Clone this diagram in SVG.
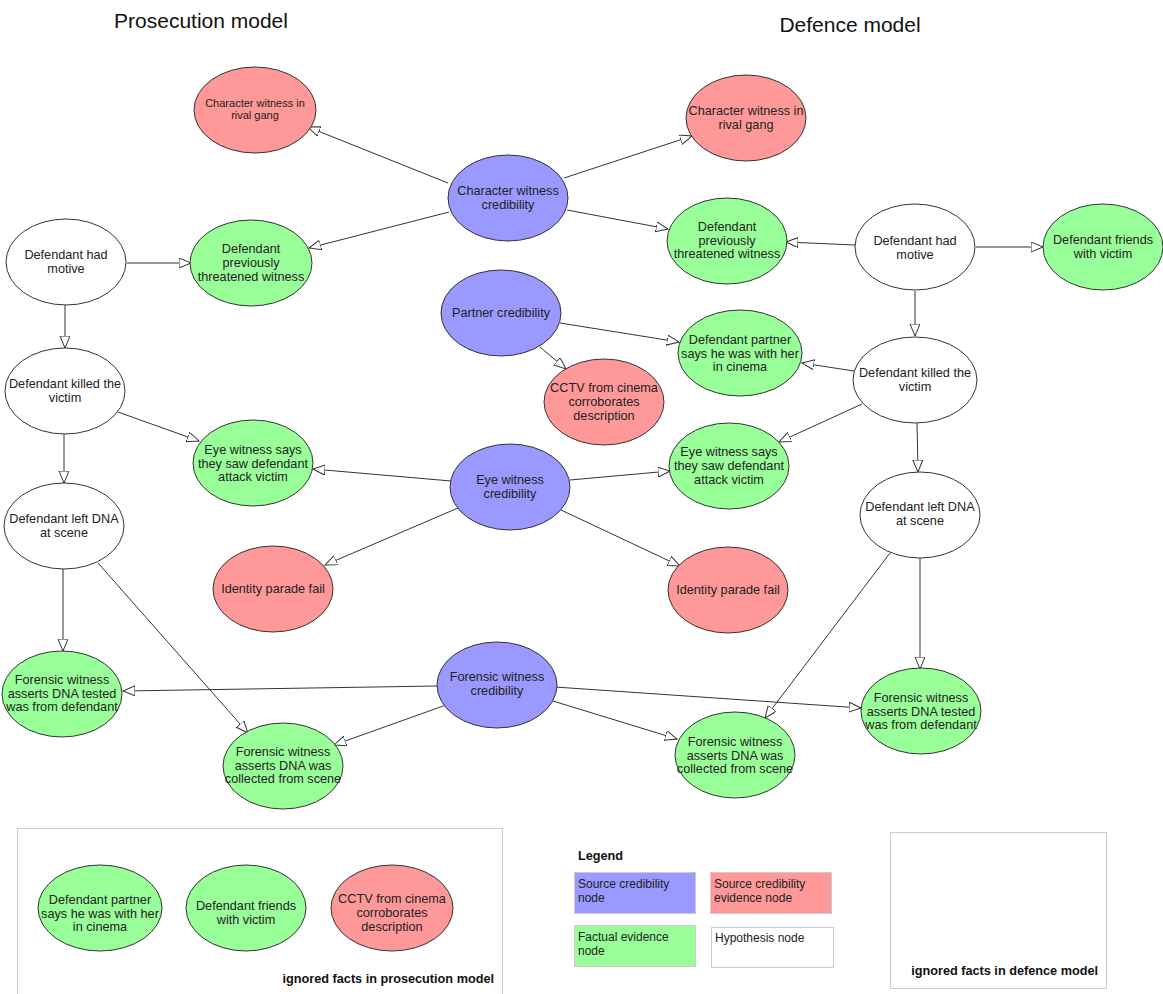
<svg xmlns="http://www.w3.org/2000/svg" width="1163" height="994" viewBox="0 0 1163 994">
<style>
.n{stroke:#333;stroke-width:1}
.blue{fill:#9999ff}.red{fill:#ff9999}.green{fill:#99ff99}.white{fill:#fff}
text{font-family:"Liberation Sans",Arial,sans-serif;font-size:12.7px;fill:#222;text-anchor:middle}
.title{font-size:21px;fill:#111}
.small{font-size:11px}
.bold{font-weight:bold;font-size:12.7px;fill:#111}
.lt{text-anchor:start;font-size:12px}
.e{stroke:#333;stroke-width:1;fill:none;marker-end:url(#arr)}
.box{fill:#fff;stroke:#ccc;stroke-width:1}
</style>
<defs>
<marker id="arr" markerUnits="userSpaceOnUse" markerWidth="14" markerHeight="12" refX="12" refY="5" orient="auto">
<path d="M0,0 L12,5 L0,10 Z" fill="#fff" stroke="#333" stroke-width="1"/>
</marker>
</defs>
<rect width="1163" height="994" fill="#fff"/>
<text class="title" x="201" y="28">Prosecution model</text>
<text class="title" x="850" y="32">Defence model</text>

<g id="connectors">
<line class="e" x1="448" y1="183" x2="308" y2="127"/>
<line class="e" x1="449" y1="212" x2="309" y2="248"/>
<line class="e" x1="127" y1="263" x2="191" y2="263"/>
<line class="e" x1="65" y1="305" x2="65" y2="348"/>
<line class="e" x1="118" y1="412" x2="199" y2="441"/>
<line class="e" x1="64" y1="434" x2="64" y2="483"/>
<line class="e" x1="451" y1="481" x2="313" y2="469"/>
<line class="e" x1="458" y1="508" x2="325" y2="565"/>
<line class="e" x1="63" y1="569" x2="63" y2="651"/>
<line class="e" x1="98" y1="563" x2="248" y2="733"/>
<line class="e" x1="437" y1="686" x2="123" y2="691"/>
<line class="e" x1="446" y1="705" x2="334" y2="745"/>
<line class="e" x1="564" y1="178" x2="692" y2="136"/>
<line class="e" x1="567" y1="210" x2="668" y2="229"/>
<line class="e" x1="855" y1="245" x2="786" y2="242"/>
<line class="e" x1="976" y1="247" x2="1043" y2="247"/>
<line class="e" x1="915" y1="291" x2="915" y2="336"/>
<line class="e" x1="560" y1="323" x2="679" y2="342"/>
<line class="e" x1="540" y1="347" x2="566" y2="369"/>
<line class="e" x1="854" y1="371" x2="802" y2="363"/>
<line class="e" x1="862" y1="404" x2="779" y2="442"/>
<line class="e" x1="917" y1="423" x2="918" y2="472"/>
<line class="e" x1="570" y1="480" x2="670" y2="471"/>
<line class="e" x1="561" y1="510" x2="680" y2="566"/>
<line class="e" x1="890" y1="553" x2="765" y2="718"/>
<line class="e" x1="920" y1="558" x2="920" y2="669"/>
<line class="e" x1="555" y1="687" x2="861" y2="708"/>
<line class="e" x1="553" y1="701" x2="677" y2="739"/>
</g>

<g id="p_cw_rival"><ellipse class="n red" cx="255" cy="110" rx="61" ry="43"/><text class="small" x="255" y="107">Character witness in</text><text class="small" x="255" y="119">rival gang</text></g>
<g id="p_motive"><ellipse class="n white" cx="66" cy="262" rx="60" ry="43"/><text x="66" y="259">Defendant had</text><text x="66" y="273">motive</text></g>
<g id="p_threat"><ellipse class="n green" cx="251" cy="263" rx="61" ry="43"/><text x="251" y="253">Defendant</text><text x="251" y="267">previously</text><text x="251" y="281">threatened witness</text></g>
<g id="p_killed"><ellipse class="n white" cx="65" cy="391" rx="60" ry="43"/><text x="65" y="388">Defendant killed the</text><text x="65" y="402">victim</text></g>
<g id="p_eye"><ellipse class="n green" cx="253" cy="463" rx="60" ry="43"/><text x="253" y="454">Eye witness says</text><text x="253" y="468">they saw defendant</text><text x="253" y="481">attack victim</text></g>
<g id="p_dna"><ellipse class="n white" cx="64" cy="526" rx="60" ry="43"/><text x="64" y="523">Defendant left DNA</text><text x="64" y="537">at scene</text></g>
<g id="p_idparade"><ellipse class="n red" cx="273" cy="589" rx="60" ry="43"/><text x="273" y="593">Identity parade fail</text></g>
<g id="p_fw_tested"><ellipse class="n green" cx="62" cy="694" rx="60" ry="43"/><text x="62" y="684">Forensic witness</text><text x="62" y="698">asserts DNA tested</text><text x="62" y="711">was from defendant</text></g>
<g id="p_fw_collected"><ellipse class="n green" cx="283" cy="766" rx="60" ry="43"/><text x="283" y="756">Forensic witness</text><text x="283" y="770">asserts DNA was</text><text x="283" y="783">collected from scene</text></g>

<g id="cw_cred"><ellipse class="n blue" cx="508" cy="198" rx="60" ry="43"/><text x="508" y="195">Character witness</text><text x="508" y="209">credibility</text></g>
<g id="partner_cred"><ellipse class="n blue" cx="501" cy="313" rx="60" ry="43"/><text x="501" y="317">Partner credibility</text></g>
<g id="cctv"><ellipse class="n red" cx="604" cy="402" rx="60" ry="43"/><text x="604" y="392">CCTV from cinema</text><text x="604" y="406">corroborates</text><text x="604" y="420">description</text></g>
<g id="eye_cred"><ellipse class="n blue" cx="510" cy="487" rx="60" ry="43"/><text x="510" y="484">Eye witness</text><text x="510" y="498">credibility</text></g>
<g id="fw_cred"><ellipse class="n blue" cx="497" cy="685" rx="60" ry="43"/><text x="497" y="681">Forensic witness</text><text x="497" y="695">credibility</text></g>

<g id="d_cw_rival"><ellipse class="n red" cx="746" cy="118" rx="60" ry="43"/><text x="746" y="115">Character witness in</text><text x="746" y="129">rival gang</text></g>
<g id="d_threat"><ellipse class="n green" cx="727" cy="241" rx="60" ry="43"/><text x="727" y="231">Defendant</text><text x="727" y="245">previously</text><text x="727" y="258">threatened witness</text></g>
<g id="d_motive"><ellipse class="n white" cx="915" cy="247" rx="60" ry="43"/><text x="915" y="245">Defendant had</text><text x="915" y="259">motive</text></g>
<g id="d_friends"><ellipse class="n green" cx="1103" cy="247" rx="60" ry="43"/><text x="1103" y="244">Defendant friends</text><text x="1103" y="258">with victim</text></g>
<g id="d_partner"><ellipse class="n green" cx="740" cy="353" rx="62" ry="43"/><text x="740" y="344">Defendant partner</text><text x="740" y="358">says he was with her</text><text x="740" y="371">in cinema</text></g>
<g id="d_killed"><ellipse class="n white" cx="915" cy="380" rx="62" ry="43"/><text x="915" y="377">Defendant killed the</text><text x="915" y="391">victim</text></g>
<g id="d_eye"><ellipse class="n green" cx="729" cy="466" rx="60" ry="43"/><text x="729" y="456">Eye witness says</text><text x="729" y="470">they saw defendant</text><text x="729" y="484">attack victim</text></g>
<g id="d_dna"><ellipse class="n white" cx="920" cy="515" rx="60" ry="43"/><text x="920" y="511">Defendant left DNA</text><text x="920" y="525">at scene</text></g>
<g id="d_idparade"><ellipse class="n red" cx="728" cy="590" rx="60" ry="43"/><text x="728" y="594">Identity parade fail</text></g>
<g id="d_fw_collected"><ellipse class="n green" cx="735" cy="755" rx="60" ry="43"/><text x="735" y="746">Forensic witness</text><text x="735" y="760">asserts DNA was</text><text x="735" y="773">collected from scene</text></g>
<g id="d_fw_tested"><ellipse class="n green" cx="921" cy="711" rx="60" ry="43"/><text x="921" y="702">Forensic witness</text><text x="921" y="716">asserts DNA tested</text><text x="921" y="729">was from defendant</text></g>

<g id="prosecution_ignored">
<rect class="box" x="17.5" y="828.5" width="485" height="170"/>
<ellipse class="n green" cx="100" cy="908" rx="62" ry="43"/><text x="100" y="904">Defendant partner</text><text x="100" y="918">says he was with her</text><text x="100" y="931">in cinema</text>
<ellipse class="n green" cx="246" cy="908" rx="60" ry="43"/><text x="246" y="910">Defendant friends</text><text x="246" y="924">with victim</text>
<ellipse class="n red" cx="392" cy="908" rx="61" ry="43"/><text x="392" y="903">CCTV from cinema</text><text x="392" y="917">corroborates</text><text x="392" y="931">description</text>
<text class="bold" x="494" y="983" style="text-anchor:end">ignored facts in prosecution model</text>
</g>

<g id="legend">
<text class="bold" x="578" y="860" style="text-anchor:start">Legend</text>
<rect x="574.5" y="872.5" width="121" height="41" fill="#9999ff" stroke="#ccc"/>
<text class="lt" x="578" y="888">Source credibility</text><text class="lt" x="578" y="902">node</text>
<rect x="710.5" y="872.5" width="121" height="41" fill="#ff9999" stroke="#ccc"/>
<text class="lt" x="714" y="888">Source credibility</text><text class="lt" x="714" y="902">evidence node</text>
<rect x="574.5" y="925.5" width="121" height="41" fill="#99ff99" stroke="#ccc"/>
<text class="lt" x="578" y="941">Factual evidence</text><text class="lt" x="578" y="955">node</text>
<rect x="711.5" y="927.5" width="122" height="40" fill="#fff" stroke="#ccc"/>
<text class="lt" x="715" y="942">Hypothesis node</text>
</g>

<g id="defence_ignored">
<rect class="box" x="890.5" y="832.5" width="216" height="156"/>
<text class="bold" x="1098" y="975" style="text-anchor:end">ignored facts in defence model</text>
</g>
</svg>
